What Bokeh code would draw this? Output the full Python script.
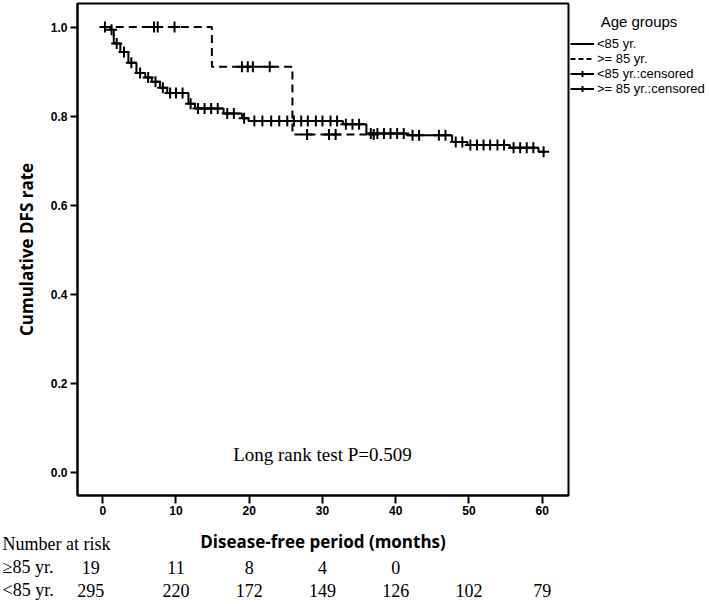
import numpy as np
from bokeh.plotting import figure
from bokeh.models import (Range1d, FixedTicker, NumeralTickFormatter, Label, Legend,
                          LegendItem, ColumnDataSource, Title)
from bokeh.layouts import row, column
from bokeh.embed import file_html
from bokeh.resources import INLINE
from bokeh.core.properties import value

# ---------------- data ----------------
lt85_times = [0, 1.0, 1.5, 2.4, 3.5, 4.6, 5.8, 6.7, 7.8, 8.8, 11.7, 12.6, 16.5, 19.0, 19.9,
              32.8, 36.0, 41.5, 47.7, 49.8, 55.6, 59.5, 60.4]
lt85_surv = [1.0, 0.994, 0.963, 0.944, 0.920, 0.897, 0.887, 0.877, 0.864, 0.852, 0.828, 0.817,
             0.806, 0.795, 0.789, 0.782, 0.761, 0.757, 0.742, 0.735, 0.729, 0.720, 0.720]
lt85_censored = [0.3, 1.2, 1.9, 2.9, 3.9, 5.1, 6.2, 7.2, 8.2, 9.2, 10.0, 10.9, 12.0, 13.0, 13.9,
                 14.8, 15.7, 17.0, 17.9, 19.3, 20.7, 21.8, 23.0, 24.1, 25.2, 26.1, 27.1, 28.0,
                 29.1, 30.0, 31.1, 32.0, 33.2, 34.1, 35.0, 36.6, 37.5, 38.4, 39.3, 40.2, 41.1,
                 42.3, 43.2, 45.9, 46.8, 48.2, 49.1, 50.2, 51.1, 52.0, 52.9, 53.9, 54.8, 56.1,
                 57.0, 57.9, 58.8, 60.2]

ge85_times = [0, 14.9, 25.9, 37.0]
ge85_surv = [1.0, 0.911, 0.759, 0.759]
ge85_censored = [7.0, 7.5, 9.8, 19.0, 19.8, 20.5, 22.8, 27.9, 30.9, 31.8, 37.0]

x_ticks = [0, 10, 20, 30, 40, 50, 60]
y_ticks = [0.0, 0.2, 0.4, 0.6, 0.8, 1.0]

risk_months = [0, 10, 20, 30, 40, 50, 60]
risk_ge85 = [19, 11, 8, 4, 0]
risk_lt85 = [295, 220, 172, 149, 126, 102, 79]
risk_row_labels = ["Number at risk", "\u226585 yr.", "<85 yr."]

legend_labels = ["<85 yr.", ">= 85 yr.", "<85 yr.:censored", ">= 85 yr.:censored"]
legend_title = "Age groups"


def step_value(times, surv, t):
    idx = np.searchsorted(np.asarray(times), np.asarray(t), side="right") - 1
    return list(np.asarray(surv)[idx])


X_RANGE = (-3.45, 63.6)
PX_PER_MONTH = 491 / (X_RANGE[1] - X_RANGE[0])

# ---------------- main figure ----------------
p = figure(width=570, height=555, x_range=Range1d(*X_RANGE), y_range=Range1d(-0.052, 1.053),
           output_backend="svg", toolbar_location=None,
           min_border_left=77, min_border_right=2, min_border_top=3, min_border_bottom=60)
p.frame_align = False
p.xgrid.visible = False
p.ygrid.visible = False
p.outline_line_color = "black"
p.outline_line_width = 2
p.outline_line_alpha = 1

src_lt = ColumnDataSource(dict(x=lt85_times, y=lt85_surv))
src_ge = ColumnDataSource(dict(x=ge85_times, y=ge85_surv))
p.step("x", "y", source=src_lt, mode="after", line_color="black", line_width=2)
p.step("x", "y", source=src_ge, mode="after", line_color="black", line_width=2, line_dash="8 5")

p.scatter(lt85_censored, step_value(lt85_times, lt85_surv, lt85_censored), marker="cross",
          size=11, line_color="black", line_width=2)
p.scatter(ge85_censored, step_value(ge85_times, ge85_surv, ge85_censored), marker="cross",
          size=11, line_color="black", line_width=2)

for ax in (p.xaxis[0], p.yaxis[0]):
    ax.axis_line_color = "black"
    ax.axis_line_width = 2
    ax.major_tick_line_color = "black"
    ax.major_tick_line_width = 2
    ax.major_tick_in = 0
    ax.minor_tick_line_color = None
    ax.major_label_text_font = "Liberation Sans"
    ax.major_label_text_font_style = "bold"
    ax.major_label_text_font_size = "12px"
    ax.major_label_text_color = "black"
    ax.axis_label_text_font = "Open Sans"
    ax.axis_label_text_font_style = "bold"
    ax.axis_label_text_font_size = "17px"
    ax.axis_label_text_color = "black"

p.xaxis.ticker = FixedTicker(ticks=x_ticks)
p.yaxis.ticker = FixedTicker(ticks=y_ticks)
p.yaxis.formatter = NumeralTickFormatter(format="0.0")
p.xaxis.major_tick_out = 8
p.yaxis.major_tick_out = 7
p.xaxis.major_label_standoff = 2
p.yaxis.major_label_standoff = 3
p.xaxis.axis_label = "Disease-free period (months)"
p.yaxis.axis_label = "Cumulative DFS rate"
p.xaxis.axis_label_standoff = 12
p.yaxis.axis_label_standoff = 10

p.add_layout(Label(x=30, y=0.039, text="Long rank test P=0.509", text_align="center",
                   text_baseline="middle", text_font="Liberation Serif", text_font_size="19px",
                   text_color="black"))

# ---------------- legend figure ----------------
lg = figure(width=137, height=100, x_range=Range1d(10, 11), y_range=Range1d(0, 1),
            output_backend="svg", toolbar_location=None, min_border_left=0,
            min_border_right=0, min_border_bottom=0, min_border_top=36,
            x_axis_location=None, y_axis_location=None)
lg.frame_align = False
lg.outline_line_color = None
lg.xgrid.visible = False
lg.ygrid.visible = False
lg.title = Title(text=legend_title, align="center", text_font="Liberation Sans",
                 text_font_size="15px", text_font_style="normal", text_color="black",
                 standoff=14, offset=4)

r_lt = lg.line([0], [0], line_color="black", line_width=2)
r_ge = lg.line([0], [0], line_color="black", line_width=2, line_dash="5 3")
r_lt_l = lg.line([0], [0], line_color="black", line_width=2)
r_lt_c = lg.scatter([0], [0], marker="cross", size=11, line_color="black", line_width=2)
r_ge_l = lg.line([0], [0], line_color="black", line_width=2)
r_ge_c = lg.scatter([0], [0], marker="cross", size=11, line_color="black", line_width=2)

legend = Legend(items=[LegendItem(label=value(legend_labels[0]), renderers=[r_lt]),
                       LegendItem(label=value(legend_labels[1]), renderers=[r_ge]),
                       LegendItem(label=value(legend_labels[2]), renderers=[r_lt_l, r_lt_c]),
                       LegendItem(label=value(legend_labels[3]), renderers=[r_ge_l, r_ge_c])],
                location="top_left", margin=0, padding=0, spacing=0, glyph_width=24,
                glyph_height=15, label_height=15, label_standoff=3,
                label_text_font="Liberation Sans", label_text_font_size="13px",
                label_text_color="black", border_line_color=None, background_fill_alpha=0)
lg.add_layout(legend, "center")

# ---------------- number-at-risk table ----------------
TBL_LEFT_PX = 77
tbl_x_start = X_RANGE[0] - TBL_LEFT_PX / PX_PER_MONTH
tbl = figure(width=570, height=67, x_range=Range1d(tbl_x_start, X_RANGE[1]),
             y_range=Range1d(0, 3), output_backend="svg", toolbar_location=None,
             min_border=0, min_border_right=2, x_axis_location=None, y_axis_location=None,
             margin=(-22, 0, 0, 0))
tbl.frame_align = False
tbl.outline_line_color = None
tbl.xgrid.visible = False
tbl.ygrid.visible = False
tbl.background_fill_alpha = 0
tbl.border_fill_alpha = 0

row_y = [2.55, 1.48, 0.46]
label_x = tbl_x_start + 2 / PX_PER_MONTH
serif_kw = dict(text_font=value("Liberation Serif"), text_font_size=value("18px"),
                text_baseline="middle", text_color="black")
tbl.text(x=[label_x] * 3, y=row_y, text=risk_row_labels, text_align="left", **serif_kw)
first_col_shift = [-12 if m == 0 else 0 for m in risk_months]
tbl.text(x=risk_months[:len(risk_ge85)], y=[row_y[1]] * len(risk_ge85),
         text=[str(v) for v in risk_ge85], x_offset=first_col_shift[:len(risk_ge85)],
         text_align="center", **serif_kw)
tbl.text(x=risk_months, y=[row_y[2]] * len(risk_lt85), text=[str(v) for v in risk_lt85],
         x_offset=first_col_shift, text_align="center", **serif_kw)

layout = column(row(p, lg), tbl)
open("out.html", "w").write(file_html(layout, INLINE))
